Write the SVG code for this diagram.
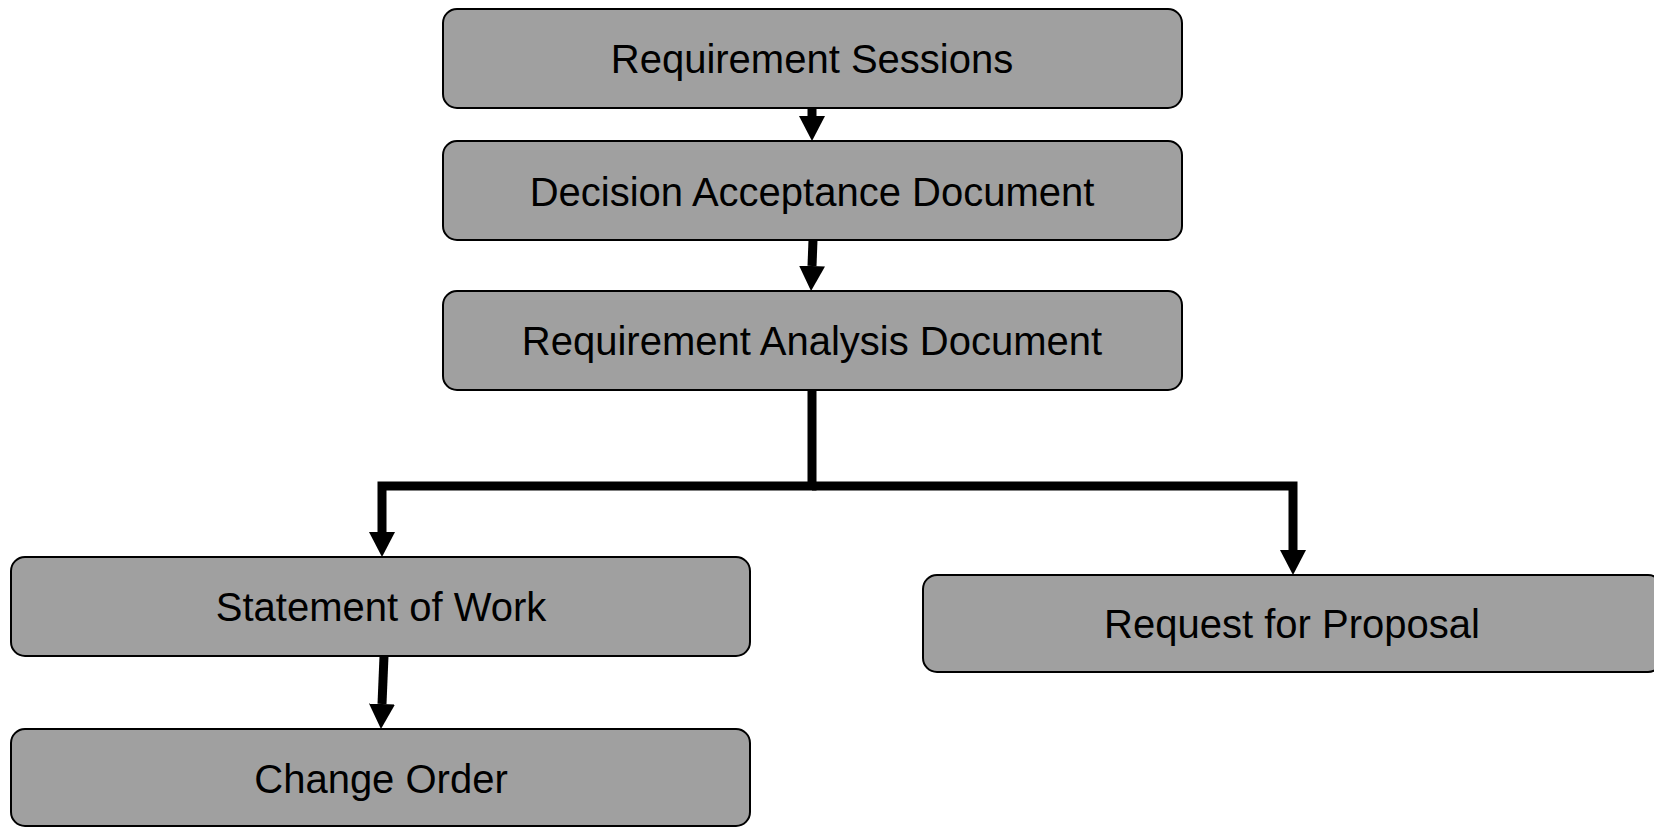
<svg xmlns="http://www.w3.org/2000/svg" width="1654" height="827" viewBox="0 0 1654 827">
<style>
.box{fill:#a0a0a0;stroke:#000;stroke-width:2}
.lbl{font-family:"Liberation Sans",Arial,sans-serif;font-size:40px;fill:#000;text-anchor:middle}
.con{fill:none;stroke:#000;stroke-width:9;stroke-linejoin:miter;marker-end:url(#ah)}
</style>
<defs>
<marker id="ah" markerUnits="userSpaceOnUse" markerWidth="26" markerHeight="26" viewBox="0 0 26 26" refX="0" refY="13" orient="auto">
<path d="M0,0 L25,13 L0,26 Z" fill="#000"/>
</marker>
</defs>
<rect width="1654" height="827" fill="#fff"/>
<g id="connectors">
<path class="con" d="M812,108 L812,116"/>
<path class="con" d="M813,240 L812,266"/>
<path class="con" d="M812,390 L812,486 L382,486 L382,532"/>
<path class="con" d="M812,486 L1293,486 L1293,550"/>
<path class="con" d="M384,656 L382,704"/>
</g>
<g id="n1"><rect class="box" x="443" y="9" width="739" height="99" rx="14"/><text class="lbl" x="812" y="73">Requirement Sessions</text></g>
<g id="n2"><rect class="box" x="443" y="141" width="739" height="99" rx="14"/><text class="lbl" x="812" y="206">Decision Acceptance Document</text></g>
<g id="n3"><rect class="box" x="443" y="291" width="739" height="99" rx="14"/><text class="lbl" x="812" y="355">Requirement Analysis Document</text></g>
<g id="n4"><rect class="box" x="11" y="557" width="739" height="99" rx="14"/><text class="lbl" x="381" y="621">Statement of Work</text></g>
<g id="n5"><rect class="box" x="11" y="729" width="739" height="97" rx="14"/><text class="lbl" x="381" y="793">Change Order</text></g>
<g id="n6"><rect class="box" x="923" y="575" width="739" height="97" rx="14"/><text class="lbl" x="1292" y="638">Request for Proposal</text></g>
</svg>
